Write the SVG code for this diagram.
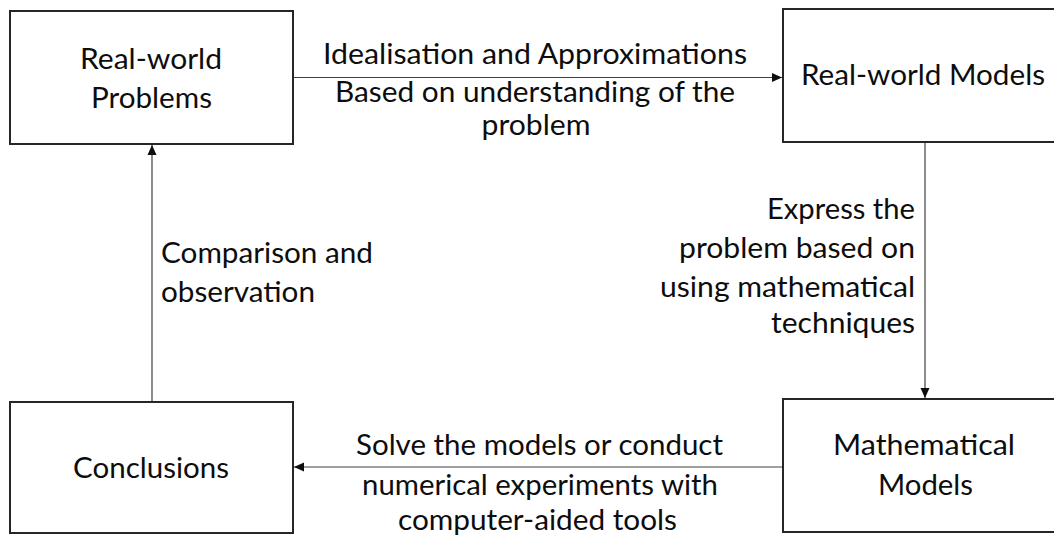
<svg xmlns="http://www.w3.org/2000/svg" width="1054" height="538" viewBox="0 0 1054 538">
<style>
.box{fill:#fff;stroke:#262626;stroke-width:2}
.t{font-family:Lato,"Liberation Sans",sans-serif;font-size:29px;fill:#0d0d0d;text-anchor:middle}
.e{text-anchor:end}
.s{text-anchor:start}
.c{fill:none;stroke:#404040;stroke-width:1.2}
</style>
<defs>
<marker id="arr" markerUnits="userSpaceOnUse" markerWidth="12" markerHeight="12" viewBox="0 0 12 12" refX="11" refY="6" orient="auto">
<path d="M1,1.5 L11,6 L1,10.5 Z" fill="#0d0d0d"/>
</marker>
</defs>
<rect width="1054" height="538" fill="#fff"/>
<g id="connectors">
<line class="c" x1="293" y1="77.5" x2="782" y2="77.5" marker-end="url(#arr)"/>
<line class="c" x1="925" y1="142" x2="925" y2="398" marker-end="url(#arr)"/>
<line class="c" x1="783" y1="467" x2="294" y2="467" marker-end="url(#arr)"/>
<line class="c" x1="152" y1="402" x2="152" y2="145" marker-end="url(#arr)"/>
<g id="label-idealisation">
<text class="t" x="535" y="64" textLength="424" lengthAdjust="spacingAndGlyphs">Idealisation and Approximations</text>
<text class="t" x="535" y="102" textLength="400" lengthAdjust="spacingAndGlyphs">Based on understanding of the</text>
<text class="t" x="536" y="135" textLength="109" lengthAdjust="spacingAndGlyphs">problem</text>
</g>
<g id="label-express">
<text class="t e" x="915" y="219" textLength="148" lengthAdjust="spacingAndGlyphs">Express the</text>
<text class="t e" x="915" y="258" textLength="236" lengthAdjust="spacingAndGlyphs">problem based on</text>
<text class="t e" x="915" y="297" textLength="255" lengthAdjust="spacingAndGlyphs">using mathematical</text>
<text class="t e" x="915" y="333" textLength="144" lengthAdjust="spacingAndGlyphs">techniques</text>
</g>
<g id="label-solve">
<text class="t" x="539.5" y="455" textLength="367" lengthAdjust="spacingAndGlyphs">Solve the models or conduct</text>
<text class="t" x="540" y="495" textLength="356" lengthAdjust="spacingAndGlyphs">numerical experiments with</text>
<text class="t" x="537.5" y="530" textLength="279" lengthAdjust="spacingAndGlyphs">computer-aided tools</text>
</g>
<g id="label-comparison">
<text class="t s" x="161" y="263" textLength="212" lengthAdjust="spacingAndGlyphs">Comparison and</text>
<text class="t s" x="161" y="302" textLength="154" lengthAdjust="spacingAndGlyphs">observation</text>
</g>
</g>
<g id="real-world-problems">
<rect class="box" x="10" y="11" width="283" height="133"/>
<text class="t" x="151" y="69" textLength="142" lengthAdjust="spacingAndGlyphs">Real-world</text>
<text class="t" x="151.5" y="108" textLength="121" lengthAdjust="spacingAndGlyphs">Problems</text>
</g>
<g id="real-world-models">
<rect class="box" x="783" y="9" width="280" height="133"/>
<text class="t s" x="801" y="85" textLength="244" lengthAdjust="spacingAndGlyphs">Real-world Models</text>
</g>
<g id="conclusions">
<rect class="box" x="10" y="402" width="283" height="131"/>
<text class="t" x="151" y="478" textLength="156" lengthAdjust="spacingAndGlyphs">Conclusions</text>
</g>
<g id="mathematical-models">
<rect class="box" x="783" y="399" width="280" height="133"/>
<text class="t" x="924" y="455" textLength="182" lengthAdjust="spacingAndGlyphs">Mathematical</text>
<text class="t" x="925.5" y="495" textLength="95" lengthAdjust="spacingAndGlyphs">Models</text>
</g>
</svg>
